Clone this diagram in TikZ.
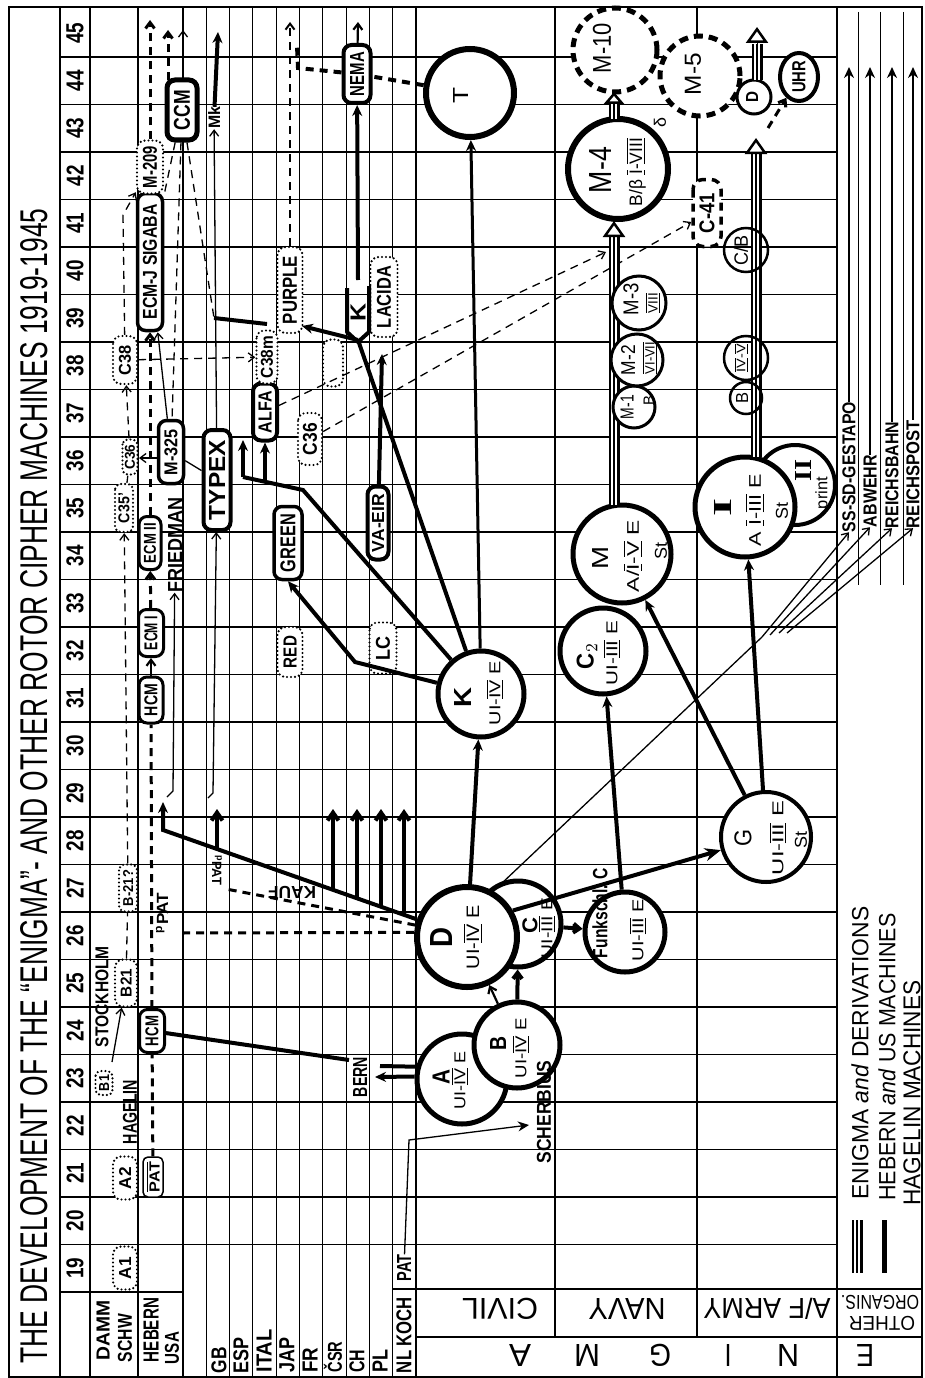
\documentclass[tikz,border=0pt]{standalone}
\usepackage{fontspec}
\setmainfont{Liberation Sans}
\newfontfamily\serifnum{Liberation Serif}
\usetikzlibrary{arrows.meta,shapes.geometric}
\newcommand\fit[3]{\resizebox{#1pt}{#2pt}{#3}}
\newcommand\RN[1]{$\overline{\underline{\hbox{#1}}}$}
\begin{document}
\begin{tikzpicture}[x=1pt,y=-1pt,
  grid/.style={line width=1.1pt},
  lbl/.style={rotate=90,inner sep=0pt,font=\bfseries},
  lbn/.style={rotate=90,inner sep=0pt},
  hbox/.style={draw,line width=3pt,rounded corners=8pt,fill=white,rotate=90,inner sep=0pt,font=\bfseries},
  dbox/.style={draw,line width=2.4pt,dash pattern=on 0pt off 4pt,line cap=round,rounded corners=8pt,fill=white,rotate=90,inner sep=0pt,font=\bfseries},
  circ/.style={circle,draw,line width=5pt,fill=white,inner sep=0pt},
  scirc/.style={circle,draw,line width=3pt,fill=white,inner sep=0pt},
  acirc/.style={circle,draw,line width=2.5pt,inner sep=0pt},
  dcirc/.style={circle,draw,line width=5pt,dash pattern=on 9pt off 6pt,fill=white,inner sep=0pt},
  thk/.style={line width=4pt},
  med/.style={line width=2.2pt},
  thn/.style={line width=1.3pt},
  hdsh/.style={line width=3pt,dash pattern=on 8pt off 6pt},
  tdsh/.style={line width=1.3pt,dash pattern=on 8pt off 6pt},
  st/.style={-{Stealth[length=11pt,width=10pt]}},
  bt/.style={-{Straight Barb[length=6pt,width=9pt]}},
  tri/.style={line width=11pt,postaction={draw=white,line width=6.5pt},postaction={draw=black,line width=2pt}},
  bigtip/.style={-{Triangle[length=16pt,width=22pt,fill=white,line width=2.5pt]}}
]
\useasboundingbox (0,0) rectangle (925,1378);
\fill[white] (0,0) rectangle (925,1378);
% ---------------- grid
\foreach \i in {0,...,25} \draw[grid] (60,{57+47.5*\i}) -- (837,{57+47.5*\i});
\foreach \xx in {60,90,138,183,206.3,229.6,252.9,276.2,299.5,322.8,346.1,369.4,392.7,416,837} \draw[grid] (\xx,7) -- (\xx,1377);
\draw[grid] (555,7) -- (555,1337);
\draw[grid] (697,7) -- (697,1337);
\foreach \xx in {858,880,903} \draw[line width=0.8pt] (\xx,12) -- (\xx,585);
\draw[grid] (60,1292) -- (183,1292);
\draw[grid] (392.7,1289) -- (922,1289);
\draw[grid] (416,1337) -- (922,1337);
% ---------------- title, years, headers
\node[lbn] (title) at (34,786) {\fit{1155}{27}{THE DEVELOPMENT OF THE “ENIGMA”- AND OTHER ROTOR CIPHER MACHINES 1919-1945}};
\foreach \k in {19,...,45} \node[lbl] (yr\k) at (75,{2170.75-47.5*\k}) {\fit{21}{17}{\k}};
\node[lbl] (damm) at (103,1330) {\fit{60}{13}{DAMM}};
\node[lbl] (schw) at (125,1338) {\fit{48}{14}{SCHW}};
\node[lbl] (hebern) at (151,1330) {\fit{64}{15}{HEBERN}};
\node[lbl] (usa) at (172,1348) {\fit{32}{14}{USA}};
\node[lbl] (gb) at (219,1360) {\fit{26}{15}{GB}};
\node[lbl] (esp) at (241,1355) {\fit{36}{15}{ESP}};
\node[lbl] (ital) at (264,1351) {\fit{43}{15}{ITAL}};
\node[lbl] (jap) at (287,1355) {\fit{35}{15}{JAP}};
\node[lbl] (fr) at (310,1360) {\fit{25}{15}{FR}};
\node[lbl] (csrl) at (333,1357) {\fit{31}{18}{ČSR}};
\node[lbl] (ch) at (357,1361) {\fit{23}{15}{CH}};
\node[lbl] (pl) at (380,1361) {\fit{23}{15}{PL}};
\node[lbl] (nlk) at (404,1335) {\fit{76}{15}{NL KOCH}};
\node[lbl] (nlpat) at (404,1268) {\fit{27}{14}{PAT}};
\node[rotate=180,inner sep=0pt] (civil) at (500,1309) {\fit{76}{21}{CIVIL}};
\node[rotate=180,inner sep=0pt] (navy) at (627,1309) {\fit{77}{21}{NAVY}};
\node[rotate=180,inner sep=0pt] (army) at (767,1309) {\fit{127}{21}{A/F ARMY}};
\node[rotate=180,inner sep=0pt] (oth) at (882,1323) {\fit{66}{14}{OTHER}};
\node[rotate=180,inner sep=0pt] (org) at (880,1302) {\fit{78}{14}{ORGANIS.}};
\foreach \lt/\xx/\ww in {A/520/22,M/587/26,G/660/22,I/728/7,N/788/22,E/865/18} \node[rotate=180,inner sep=0pt] at (\xx,1355) {\fit{\ww}{22}{\lt}};
% ---------------- Hagelin boxes
\node[dbox,minimum width=43pt,minimum height=24pt] (a1) at (125,1268) {\fit{22}{12}{A1}};
\node[dbox,minimum width=43pt,minimum height=24pt] (a2) at (125,1178) {\fit{22}{12}{A2}};
\node[dbox,minimum width=24pt,minimum height=17pt,rounded corners=5pt] (b1) at (104,1083) {\fit{16}{10}{B1}};
\node[dbox,minimum width=47pt,minimum height=22pt] (b21) at (126,983) {\fit{28}{11}{B21}};
\node[dbox,minimum width=47pt,minimum height=18pt,rounded corners=6pt] (b21q) at (128,888) {\fit{36}{10}{B-21?}};
\node[dbox,minimum width=48pt,minimum height=18pt,rounded corners=6pt] (c35) at (124,508) {\fit{30}{11}{C35'}};
\node[dbox,minimum width=35pt,minimum height=15pt,rounded corners=5pt] (c36) at (130,457) {\fit{25}{10}{C36}};
\node[dbox,minimum width=48pt,minimum height=24pt] (c38) at (125,360) {\fit{30}{12}{C38}};
\node[lbl] (stock) at (102,997) {\fit{100}{13}{STOCKHOLM}};
\node[lbl] (hag) at (130,1112) {\fit{64}{14}{HAGELIN}};
% ---------------- Hebern boxes
\node[hbox,line width=1.5pt,rounded corners=5pt,minimum width=40pt,minimum height=20pt] (hpat) at (153,1177) {\fit{30}{13}{$\overline{\hbox{PAT}}$}};
\node[hbox,minimum width=43pt,minimum height=25pt] (hcm1) at (152,1031) {\fit{30}{13}{HCM}};
\node[hbox,minimum width=46pt,minimum height=24pt] (hcm2) at (151,700) {\fit{32}{13}{HCM}};
\node[hbox,minimum width=47pt,minimum height=25pt] (ecm1) at (151,633) {\fit{34}{13}{ECM I}};
\node[hbox,minimum width=53pt,minimum height=22pt] (ecm2) at (150,543) {\fit{40}{12}{ECM II}};
\node[hbox,line width=3.5pt,minimum width=63pt,minimum height=25pt] (m325) at (171,452) {\fit{46}{13}{M-325}};
\node[hbox,line width=3.5pt,minimum width=137pt,minimum height=25pt] (sigaba) at (150,262) {\fit{115}{14}{ECM-J SIGABA}};
\node[dbox,minimum width=53pt,minimum height=26pt] (m209) at (150,167) {\fit{42}{14}{M-209}};
\node[hbox,line width=5pt,minimum width=60pt,minimum height=30pt] (ccm) at (182,110) {\fit{40}{16}{CCM}};
\node[lbl] (fried) at (175,545) {\fit{95}{14}{FRIEDMAN}};
% ---------------- country boxes
\node[hbox,line width=4pt,minimum width=100pt,minimum height=27pt] (typex) at (217,480) {\fit{80}{16}{TYPEX}};
\node[hbox,line width=4pt,minimum width=57pt,minimum height=24pt] (alfa) at (265,412) {\fit{42}{13}{ALFA}};
\node[dbox,minimum width=53pt,minimum height=21pt] (c38m) at (267,357) {\fit{42}{12}{C38m}};
\node[hbox,line width=3.5pt,minimum width=73pt,minimum height=28pt] (green) at (288,543) {\fit{58}{15}{GREEN}};
\node[dbox,minimum width=50pt,minimum height=25pt] (red) at (290,652) {\fit{32}{13}{RED}};
\node[dbox,minimum width=86pt,minimum height=25pt] (purple) at (290,290) {\fit{68}{14}{PURPLE}};
\node[dbox,minimum width=52pt,minimum height=24pt] (c36f) at (310,439) {\fit{32}{14}{C36}};
\node[dbox,minimum width=47pt,minimum height=20pt] (csr) at (333,363) {};
\node[hbox,line width=4pt,minimum width=58pt,minimum height=27pt] (nema) at (357,74) {\fit{44}{14}{NEMA}};
\node[dbox,minimum width=80pt,minimum height=27pt] (lacida) at (384,297) {\fit{62}{14}{LACIDA}};
\node[hbox,line width=4pt,minimum width=73pt,minimum height=21pt] (vaeir) at (378,523) {\fit{58}{12}{VA-EIR}};
\node[dbox,minimum width=51pt,minimum height=27pt] (lc) at (383,648) {\fit{24}{14}{LC}};
\node[draw,line width=3.5pt,dash pattern=on 8pt off 6pt,rounded corners=10pt,fill=white,rotate=90,inner sep=0pt,minimum width=67pt,minimum height=28pt,font=\bfseries] (c41) at (707,213) {\fit{40}{15}{C-41}};
% ---------------- Enigma circles
\node[circ,line width=6pt,minimum size=88pt] (T) at (470,93) {};
\node[dcirc,minimum size=84pt] (m10) at (615,50) {};
\node[dcirc,minimum size=80pt] (m5) at (700,76) {};
\node[circ,line width=6pt,minimum size=100pt] (m4) at (618,169) {};
\node[circ,minimum size=98pt] (M) at (622,554) {};
\node[circ,minimum size=86pt] (c2) at (603,651) {};
\node[circ,minimum size=86pt] (K) at (481,694) {};
\node[circ,line width=4pt,minimum size=80pt] (II) at (795,485) {};
\node[circ,minimum size=100pt] (I) at (745,507) {};
\node[circ,line width=4pt,minimum size=90pt] (G) at (766,837) {};
\node[circ,minimum size=86pt] (C) at (518,924) {};
\node[circ,line width=6pt,minimum size=100pt] (D) at (467,937) {};
\node[circ,minimum size=80pt] (funk) at (625,932) {};
\node[circ,minimum size=90pt] (A) at (462,1079) {};
\node[circ,minimum size=86pt] (B) at (517,1045) {};
\node[circle,draw,line width=3pt,fill=white,inner sep=0pt,minimum size=34pt] (dsm) at (754,97) {};
\node[ellipse,draw,line width=4pt,fill=white,minimum width=38pt,minimum height=48pt] (uhr) at (799,77) {};
% ---------------- org labels and other texts
\node[lbl] (gest) at (849,467) {\fit{130}{13}{SS-SD-GESTAPO}};
\node[lbl] (abw) at (870,491) {\fit{72}{13}{ABWEHR}};
\node[lbl] (rbahn) at (892,475) {\fit{106}{13}{REICHSBAHN}};
\node[lbl] (rpost) at (913,474) {\fit{108}{13}{REICHSPOST}};
\node[lbl] (bern) at (360,1077) {\fit{40}{14}{BERN}};
\node[lbl] (pat2) at (162,913) {\fit{40}{12}{\textsuperscript{p}PAT}};
\node[rotate=-90,inner sep=0pt,font=\bfseries] (pat1) at (217,870) {\fit{30}{10}{\textsuperscript{p}PAT}};
\node[rotate=180,inner sep=0pt,font=\bfseries] (kauf) at (292,892) {\fit{48}{12}{KAUF}};
\node[lbl] (mk) at (214,118) {\fit{22}{12}{Mk}};
% ---------------- Hagelin connectors
\draw[tdsh] (b21) -- (b21q);
\draw[tdsh,bt] (b21q) -- (c35);
\draw[tdsh] (c35) -- (c36);
\draw[tdsh,bt] (c36) -- (c38);
\coordinate (hg1) at (123,215);
\draw[tdsh,bt] (c38) -- (hg1) -- (m209);
\draw[tdsh,bt] (c38) -- (c38m);
\coordinate (b1s) at (112,1062);
\draw[thn,bt] (b1s) -- (b21);
% ---------------- Hebern connectors
\draw[hdsh] (hpat) -- (hcm1);
\draw[hdsh] (hcm1) -- (hcm2);
\draw[med,bt] (hcm2) -- (ecm1);
\draw[hdsh,bt] (ecm1) -- (ecm2);
\draw[hdsh,bt] (ecm2) -- (sigaba);
\coordinate (h45) at (150,20);
\draw[hdsh,bt] (m209) -- (h45);
\draw[hdsh,bt] (168,80) -- (168,30);
\draw[thn,bt] (183,80) -- (183,30);
\coordinate (tj) at (214,318);
\draw[tdsh] (ccm) -- (sigaba);
\draw[tdsh] (ccm) -- (m325);
\draw[tdsh] (ccm) -- (tj);
\draw[thn,bt] (m325) -- (sigaba);
\draw[thn] (m325) -- (typex);
\draw[thn,bt] (158,458) -- (139,458);
\draw[thn,bt] (167,797) -- (173,791) -- (fried);
% ---------------- KAUF and patents
\coordinate (kf) at (163,830);
\draw[thk,st] (D) -- (kf) -- (163,802);
\foreach \xx/\yy in {217/849,333/889,357/898,381/906,404/914} \draw[thk,-{Straight Barb[length=8pt,width=11pt]}] (\xx,\yy) -- (\xx,809);
\coordinate (p2e) at (180,933);
\draw[hdsh] (D.175) -- (p2e);
\coordinate (p1e) at (226,889);
\draw[hdsh] (D.167) -- (p1e);
% ---------------- GB / TYPEX
\draw[thn,bt] (208,798) -- (213,793) -- (typex);
\draw[thn,bt] (typex) -- (mk);
\draw[thk,st] (mk) -- (218,32);
\draw[thk] (tj) -- (267,324);
% ---------------- K lines
\coordinate (kg) at (355,662);
\draw[thk,st] (K) -- (kg) -- (green.west);
\coordinate (ke) at (303,490);
\coordinate (kf2) at (243,477);
\draw[thk] (K) -- (ke) -- (kf2);
\draw[thk,st] (kf2) -- (243,440);
\draw[thk,st] (265,482) -- (alfa);
\coordinate (kj) at (358,340);
\draw[thk] (K) -- (kj);
\draw[thk,st] (kj) -- (302,326);
\draw[line width=4pt,line join=round] (347,288) -- (347,332) -- (358,342) -- (369,332) -- (369,286);
\node[lbl] (kch) at (358,312) {\fit{18}{15}{K}};
\draw[thk,st] (358,280) -- (nema);
\draw[med,bt] (nema) -- (358,22);
\draw[hdsh,line width=4pt] (T) -- (nema);
\draw[hdsh,line width=4pt] (nema) -- (298,68) -- (297,46);
\draw[hdsh,line width=2pt,bt] (purple) -- (290,22);
\draw[thk,st] (vaeir) -- (382,354);
\draw[line width=3pt,st] (K) -- (T);
\coordinate (nv) at (606,252);
\draw[tdsh,bt] (alfa) -- (nv);
\draw[tdsh,bt] (c36f) -- (c41);
% ---------------- D, C, B, A lines
\draw[thk,st] (D) -- (K);
\draw[thk,-{Stealth[length=16pt,width=13pt]}] (D.30) -- (G);
\coordinate (oj1) at (762,637);
\coordinate (oj2) at (770,635);
\coordinate (oj3) at (779,633);
\coordinate (oj4) at (787,633);
\draw[thn] (D.60) -- (oj1);
\draw[thn,bt] (oj1) -- (gest.west);
\draw[thn,bt] (oj2) -- (abw.west);
\draw[thn,bt] (oj3) -- (rbahn.west);
\draw[thn,bt] (oj4) -- (rpost.west);
\draw[med,st] (gest) -- (849,67);
\draw[med,st] (abw) -- (870,67);
\draw[med,st] (rbahn) -- (892,67);
\draw[med,st] (rpost) -- (913,67);
\draw[thk,bt] (C) -- (funk);
\draw[med,bt] (B) -- (D);
\draw[thk,bt] (B) -- (C);
\draw[thk,st] (funk) -- (c2);
\draw[thk,st] (G) -- (M);
\draw[thk,st] (G) -- (I);
\draw[thk] (A.165) -- (380,1066);
\draw[thk,st] (A.177) -- (375,1077);
\draw[thk] (hcm1) -- (349,1060);
\node[lbl] (scher) at (544,1112) {\fit{103}{14}{SCHERBIUS}};
\draw[thn,st] (nlpat) -- (409,1140) -- (529,1125);
% ---------------- triple (Enigma) lines
\draw[tri] (614,505) -- (614,236);
\draw[line width=1pt,bigtip] (614,250) -- (614,221);
\draw[tri] (614,119) -- (614,104);
\draw[line width=1pt,-{Triangle[length=12pt,width=20pt,fill=white,line width=2.5pt]}] (614,112) -- (614,92);
\draw[tri] (756,457) -- (756,154);
\draw[line width=1pt,bigtip] (756,170) -- (756,138);
\draw[tri] (757,80) -- (757,44);
\draw[line width=1pt,bigtip] (757,60) -- (757,27);
\draw[hdsh,bt] (768,128) -- (uhr);
% small circles
\node[scirc,minimum size=42pt] (m1) at (634,407) {};
\node[scirc,minimum size=52pt] (m2) at (637,360) {};
\node[scirc,minimum size=54pt] (m3) at (639,303) {};
\node[acirc,minimum size=32pt] (sb) at (746,398) {};
\node[acirc,minimum size=44pt] (ivv) at (746,358) {};
\node[acirc,minimum size=44pt] (cb) at (746,250) {};
% legend
\draw[tri] (857,1220) -- (857,1273);
\draw[line width=5pt] (884,1220) -- (884,1273);
\node[lbn] (leg1) at (860,1053) {\fit{293}{17}{ENIGMA \textit{and} DERIVATIONS}};
\node[lbn] (leg2) at (887,1057) {\fit{287}{17}{HEBERN \textit{and} US MACHINES}};
\node[lbn] (leg3) at (912,1093) {\fit{225}{17}{HAGELIN MACHINES}};
% ---------------- circle texts
\node[lbn] at (461,95) {\fit{16}{15}{T}};
\node[lbl] at (441,937) {\fit{20}{22}{D}};
\node[lbn] at (473,937) {\fit{64}{16}{UI-\RN{IV} E}};
\node[lbl] at (530,925) {\fit{16}{15}{C}};
\node[lbn] at (547,928) {\fit{60}{14}{UI-\RN{III} E}};
\node[lbl] at (498,1043) {\fit{14}{16}{B}};
\node[lbn] at (521,1048) {\fit{60}{14}{UI-\RN{IV} E}};
\node[lbl] at (441,1077) {\fit{15}{17}{A}};
\node[lbn] at (460,1080) {\fit{58}{14}{UI-\RN{IV} E}};
\node[lbl] at (600,913) {\fit{90}{15}{Funkschl. C}};
\node[lbn] at (638,930) {\fit{62}{14}{UI-\RN{III} E}};
\node[lbl] at (463,697) {\fit{20}{17}{K}};
\node[lbn] at (495,693) {\fit{64}{14}{UI-\RN{IV} E}};
\node[lbl] at (587,656) {\fit{26}{17}{C$_2$}};
\node[lbn] at (612,653) {\fit{64}{14}{UI-\RN{III} E}};
\node[lbn] at (600,558) {\fit{23}{16}{M}};
\node[lbn] at (633,556) {\fit{72}{15}{A/\RN{I}-\RN{V} E}};
\node[lbn] at (661,551) {\fit{17}{12}{St}};
\node[lbn] at (743,838) {\fit{17}{17}{G}};
\node[lbn] at (778,838) {\fit{74}{14}{UI-\RN{III} E}};
\node[lbn] at (801,840) {\fit{17}{12}{St}};
\node[lbn] at (723,507) {\fit{18}{17}{\serifnum\bfseries I}};
\node[lbn] at (755,510) {\fit{72}{15}{A \RN{I}-\RN{III} E}};
\node[lbn] at (782,511) {\fit{17}{12}{St}};
\node[lbn] at (803,470) {\fit{22}{16}{\serifnum\bfseries II}};
\node[lbn] at (823,493) {\fit{32}{12}{print}};
\node[lbn] at (600,170) {\fit{46}{22}{M-4}};
\node[lbn] at (636,172) {\fit{68}{16}{B/β \RN{I}-\RN{VIII}}};
\node[lbn] at (660,123) {\fit{10}{12}{δ}};
\node[lbn] at (602,48) {\fit{50}{18}{M-10}};
\node[lbn] at (693,74) {\fit{42}{16}{M-5}};
\node[lbn] at (627,407) {\fit{24}{13}{M-1}};
\node[lbn] at (649,400) {\fit{10}{11}{B}};
\node[lbn] at (628,360) {\fit{30}{14}{M-2}};
\node[lbn] at (650,358) {\fit{32}{12}{\RN{VI-VII}}};
\node[lbn] at (631,299) {\fit{32}{15}{M-3}};
\node[lbn] at (653,303) {\fit{20}{12}{\RN{VIII}}};
\node[lbn] at (742,398) {\fit{11}{12}{B}};
\node[lbn] at (741,358) {\fit{28}{11}{\RN{IV}-\RN{V}}};
\node[lbn] at (741,250) {\fit{30}{14}{C/B}};
\node[lbl] at (752,97) {\fit{11}{12}{D}};
\node[lbl] at (799,77) {\fit{32}{13}{UHR}};
% ---------------- frame on top
\draw[line width=2pt] (9,7) rectangle (922,1377);
\end{tikzpicture}
\end{document}
